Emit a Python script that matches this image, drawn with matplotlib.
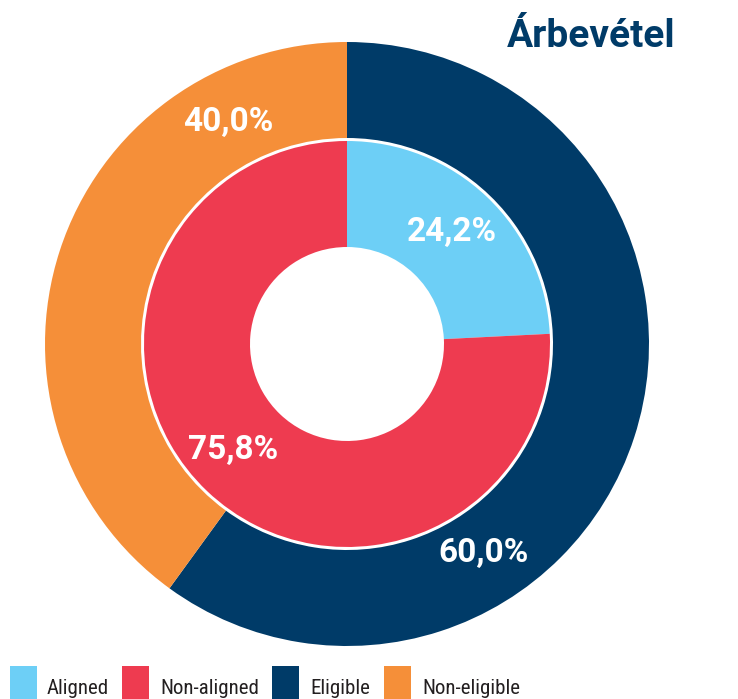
import matplotlib.pyplot as plt
from matplotlib.patches import Rectangle
from matplotlib import font_manager

outer_labels = ["Eligible", "Non-eligible"]
outer_values = [60.0, 40.0]
inner_labels = ["Aligned", "Non-aligned"]
inner_values = [24.2, 75.8]
legend_labels = ["Aligned", "Non-aligned", "Eligible", "Non-eligible"]
title = "Árbevétel"

colors = {
    "Aligned": "#6DCFF6",
    "Non-aligned": "#EE3B50",
    "Eligible": "#003B68",
    "Non-eligible": "#F58F39",
}

# narrow font if one is around, Roboto otherwise
names = {f.name for f in font_manager.fontManager.ttflist}
narrow = "Roboto"
for cand in ["Liberation Sans Narrow", "DejaVu Sans Condensed", "Roboto Condensed"]:
    if cand in names:
        narrow = cand
        break
leg_size = 15 if narrow != "Roboto" else 13

W, H = 738, 699
fig = plt.figure(figsize=(W / 100, H / 100), dpi=100)
ax = fig.add_axes([0, 0, 1, 1])
ax.set_xlim(0, W)
ax.set_ylim(0, H)
ax.set_aspect("equal")
ax.axis("off")

cx, cy = 347, H - 344
ax.pie(outer_values, colors=[colors[l] for l in outer_labels], radius=302,
       center=(cx, cy), startangle=90, counterclock=False,
       wedgeprops=dict(width=96, linewidth=0))
ax.pie(inner_values, colors=[colors[l] for l in inner_labels], radius=203,
       center=(cx, cy), startangle=90, counterclock=False,
       wedgeprops=dict(width=106, linewidth=0))
ax.set_xlim(0, W)
ax.set_ylim(0, H)

lab = dict(color="white", fontsize=24, fontweight="bold", family="Roboto",
           ha="center", va="center")
ax.text(228, H - 122, "40,0%", **lab)
ax.text(483, H - 553, "60,0%", **lab)
ax.text(452, H - 232, "24,2%", **lab)
ax.text(233, H - 450, "75,8%", **lab)

ax.text(507, H - 47, title, color="#003B68", fontsize=28, fontweight="bold",
        family="Roboto", ha="left", va="baseline")

sq_x = [10, 122, 272, 384]
tx_x = [47, 160, 310, 422]
for lbl, sx, tx in zip(legend_labels, sq_x, tx_x):
    ax.add_patch(Rectangle((sx, 0), 27, H - 666, color=colors[lbl], lw=0))
    ax.text(tx, H - 694, lbl, color="#231F20", fontsize=leg_size, family=narrow,
            ha="left", va="baseline")

fig.savefig("out.png", dpi=100)
